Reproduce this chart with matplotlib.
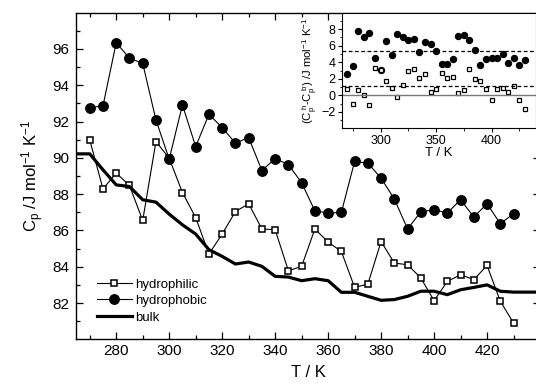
import matplotlib
matplotlib.use("Agg")
import matplotlib.pyplot as plt
import numpy as np

plt.rcParams['font.family'] = ['Liberation Sans', 'DejaVu Sans']
plt.rcParams['mathtext.fontset'] = 'custom'
plt.rcParams['mathtext.rm'] = 'Liberation Sans'
plt.rcParams['mathtext.it'] = 'Liberation Sans:italic'

# temperatures of the data points (K)
T = [270, 275, 280, 285, 290, 295, 300, 305, 310, 315, 320, 325, 330, 335, 340, 345, 350,
     355, 360, 365, 370, 375, 380, 385, 390, 395, 400, 405, 410, 415, 420, 425, 430]

# heat capacity, J/mol/K
hydrophobic = [92.77, 92.86, 96.35, 95.49, 95.21, 92.09, 89.93, 92.92, 90.62, 92.40, 91.67,
               90.81, 91.12, 89.30, 89.96, 89.63, 88.63, 87.08, 86.96, 86.99, 89.80, 89.71,
               88.88, 87.73, 86.08, 87.03, 87.14, 86.96, 87.69, 86.74, 87.47, 86.37, 86.92]
hydrophilic = [90.99, 88.29, 89.16, 88.48, 86.55, 90.90, 89.98, 88.09, 86.71, 84.70, 85.80,
               87.04, 87.47, 86.08, 86.04, 83.78, 84.02, 86.08, 85.36, 84.84, 82.86, 83.04,
               85.39, 84.20, 84.11, 83.38, 82.13, 83.19, 83.56, 83.29, 84.07, 82.10, 80.90]

# bulk curve, runs edge to edge
T_bulk = [265] + T + [440]
bulk = [90.22, 90.22, 89.34, 88.51, 88.42, 87.69, 87.56, 86.90, 86.31, 85.80, 84.94, 84.57,
        84.15, 84.26, 84.02, 83.47, 83.43, 83.23, 83.34, 83.23, 82.59, 82.59, 82.37, 82.15,
        82.19, 82.37, 82.65, 82.65, 82.46, 82.73, 82.86, 83.00, 82.65, 82.60, 82.60]

# average excess (dashed lines in inset)
avg_phobic = 5.35
avg_philic = 1.15

bulk_at_T = np.array(bulk[1:-1])
d_phobic = np.array(hydrophobic) - bulk_at_T
d_philic = np.array(hydrophilic) - bulk_at_T

fig = plt.figure(figsize=(5.36, 3.85), dpi=100)
ax = fig.add_axes([0.1427, 0.1187, 0.8648, 0.8483])

ax.plot(T, hydrophilic, '-s', color='black', lw=0.8, ms=4.6, mfc='white', mec='black',
        mew=1.1, label='hydrophilic')
ax.plot(T, hydrophobic, '-o', color='black', lw=0.8, ms=6.8, mfc='black', mec='black',
        label='hydrophobic')
ax.plot(T_bulk, bulk, '-', color='black', lw=2.3, label='bulk')

ax.set_xlim(265, 440)
ax.set_ylim(80, 98)
ax.set_xticks([280, 300, 320, 340, 360, 380, 400, 420])
ax.set_xticks(np.arange(270, 440, 10), minor=True)
ax.set_yticks([82, 84, 86, 88, 90, 92, 94, 96])
ax.set_yticks(np.arange(81, 98, 2), minor=True)
ax.tick_params(axis='x', which='both', direction='in', top=True, labelsize=11)
ax.tick_params(axis='y', which='both', direction='in', right=True, labelsize=11)
ax.tick_params(which='major', length=5, width=0.9)
ax.tick_params(which='minor', length=2.8, width=0.9)
ax.tick_params(axis='y', which='major', pad=5)
ax.set_xlabel('T / K', fontsize=12, labelpad=5)
ax.set_ylabel(r'C$_\mathrm{p}$ /J mol$^{-1}$ K$^{-1}$', fontsize=12, labelpad=5)
for s in ax.spines.values():
    s.set_linewidth(1.0)

ax.legend(loc='lower left', bbox_to_anchor=(0.025, 0.02), frameon=False, fontsize=9.5,
          handlelength=2.6, handletextpad=0.3, labelspacing=0.32, numpoints=1, borderpad=0.2)

# inset
axi = fig.add_axes([0.6375, 0.6667, 0.3625, 0.3003])
axi.plot(T, d_phobic, 'o', color='black', ms=4.3)
axi.plot(T, d_philic, 's', color='black', ms=3.3, mfc='white', mew=0.9)
axi.axhline(0, color='#777777', lw=1.0)
axi.axhline(avg_phobic, color='black', lw=0.9, ls=(0, (3, 2)))
axi.axhline(avg_philic, color='black', lw=0.9, ls=(0, (3, 2)))
axi.set_xlim(265, 440)
axi.set_ylim(-4, 10)
axi.set_xticks([300, 350, 400])
axi.set_xticks(np.arange(275, 440, 25), minor=True)
axi.set_yticks([-2, 0, 2, 4, 6, 8])
axi.set_yticks(np.arange(-3, 10, 2), minor=True)
axi.tick_params(which='both', direction='out', labelsize=9, pad=1.5)
axi.tick_params(which='major', length=3)
axi.tick_params(which='minor', length=1.8)
axi.set_xlabel('T / K', fontsize=9.5, labelpad=0)
axi.set_ylabel(r'(C$_\mathrm{p}^{\ \mathrm{h}}$-C$_\mathrm{p}^{\ \mathrm{b}}$) /J mol$^{-1}$ K$^{-1}$',
               fontsize=8.2, labelpad=1)

fig.savefig('out.png', dpi=100)
